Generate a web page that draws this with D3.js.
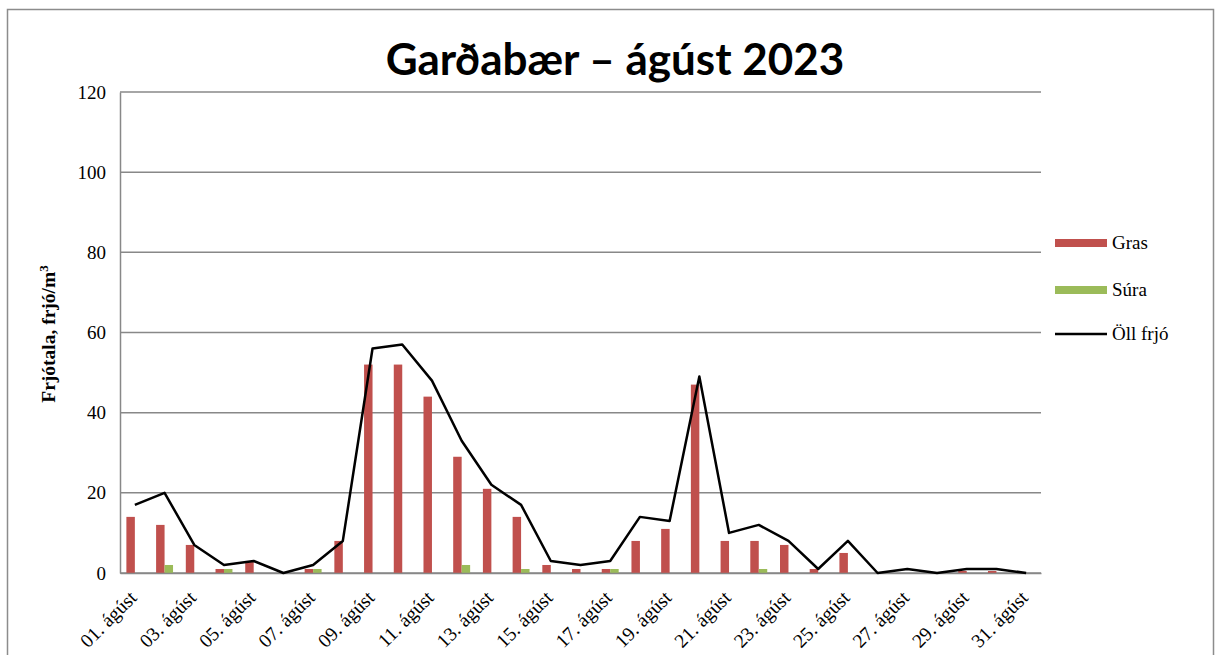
<!DOCTYPE html>
<html>
<head>
<meta charset="utf-8">
<script src="https://cdn.jsdelivr.net/npm/d3@7"></script>
<style>
  body { margin: 0; background: #fff; }
  svg { display: block; }
  .serif { font-family: "Liberation Serif", "Times New Roman", "DejaVu Serif", serif; }
</style>
</head>
<body>
<div id="chart"></div>
<script>
const days = d3.range(1, 32).map(d => (d < 10 ? "0" + d : "" + d) + ". ágúst");
const gras = [14, 12, 7, 1, 3, 0, 1, 8, 52, 52, 44, 29, 21, 14, 2, 1, 1, 8, 11, 47, 8, 8, 7, 1, 5, 0, 0, 0, 0.5, 0.5, 0];
const sura = [0, 2, 0, 1, 0, 0, 1, 0, 0, 0, 0, 2, 0, 1, 0, 0, 1, 0, 0, 0, 0, 1, 0, 0, 0, 0, 0, 0, 0, 0, 0];
const allPollen = [17, 20, 7, 2, 3, 0, 2, 8, 56, 57, 48, 33, 22, 17, 3, 2, 3, 14, 13, 49, 10, 12, 8, 1, 8, 0, 1, 0, 1, 1, 0];
const yTicks = [0, 20, 40, 60, 80, 100, 120];
const seriesNames = ["Gras", "Súra", "Öll frjó"];
const colors = { Gras: "#C0504D", "Súra": "#9BBB59", "Öll frjó": "#000" };

const svg = d3.select("#chart").append("svg")
  .attr("width", 1220)
  .attr("height", 655);

const margin = { top: 92, left: 120, right: 179, bottom: 82 };
const width = 1220 - margin.left - margin.right;
const height = 655 - margin.top - margin.bottom;

// outer chart border
svg.append("path")
  .attr("d", "M7.5,655 V9.5 H1213.5 V655")
  .attr("fill", "none")
  .attr("stroke", "#8c8c8c")
  .attr("stroke-width", 1.5);

svg.append("text")
  .attr("x", 615)
  .attr("y", 75)
  .attr("text-anchor", "middle")
  .attr("font-family", "Lato, 'Open Sans', sans-serif")
  .attr("font-weight", "bold")
  .attr("font-size", 44)
  .text("Garðabær – ágúst 2023");

const chart = svg.append("g").attr("transform", `translate(${margin.left},${margin.top})`);

const x = d3.scaleBand().domain(days).range([0, width]).paddingInner(0.43).paddingOuter(0.215);
const xSub = d3.scaleBand().domain(["Gras", "Súra"]).range([0, x.bandwidth()]);
const y = d3.scaleLinear().domain([0, 120]).range([height, 0]);

// gridlines
chart.append("g")
  .selectAll("line")
  .data(yTicks)
  .join("line")
  .attr("x1", 0).attr("x2", width)
  .attr("y1", d => y(d)).attr("y2", d => y(d))
  .attr("stroke", "#888")
  .attr("stroke-width", 1.5);

// y axis
const yAxis = chart.append("g")
  .call(d3.axisLeft(y).tickValues(yTicks).tickSize(0).tickPadding(14));
yAxis.attr("font-family", null);
yAxis.select(".domain").attr("stroke", "#888").attr("stroke-width", 1.5);
yAxis.selectAll("text")
  .attr("class", "serif")
  .attr("font-size", 19)
  .attr("fill", "#000");

// bars
const groups = chart.append("g")
  .selectAll("g")
  .data(days)
  .join("g")
  .attr("transform", d => `translate(${x(d)},0)`);

groups.selectAll("rect")
  .data((d, i) => [{ key: "Gras", v: gras[i] }, { key: "Súra", v: sura[i] }])
  .join("rect")
  .attr("x", d => xSub(d.key))
  .attr("width", xSub.bandwidth())
  .attr("y", d => y(d.v))
  .attr("height", d => height - y(d.v))
  .attr("fill", d => colors[d.key]);

// x axis
const xAxis = chart.append("g")
  .attr("transform", `translate(0,${height})`)
  .call(d3.axisBottom(x).tickSize(0).tickFormat((d, i) => i % 2 === 0 ? d : ""));
xAxis.attr("font-family", null);
xAxis.select(".domain").attr("stroke", "#888").attr("stroke-width", 1.5);
xAxis.selectAll("text")
  .attr("class", "serif")
  .attr("font-size", 19.5)
  .attr("fill", "#000")
  .attr("text-anchor", "end")
  .attr("dy", null)
  .attr("y", 0)
  .attr("transform", "translate(3,26) rotate(-45)");

// total line
const line = d3.line()
  .x((d, i) => x(days[i]) + x.bandwidth() / 2)
  .y(d => y(d));
chart.append("path")
  .datum(allPollen)
  .attr("d", line)
  .attr("fill", "none")
  .attr("stroke", "#000")
  .attr("stroke-width", 2.5)
  .attr("stroke-linejoin", "round");

// y axis title
svg.append("text")
  .attr("class", "serif")
  .attr("transform", "translate(55,334) rotate(-90)")
  .attr("text-anchor", "middle")
  .attr("font-weight", "bold")
  .attr("font-size", 19.5)
  .text("Frjótala, frjó/m")
  .append("tspan")
  .attr("baseline-shift", "super")
  .attr("font-size", 13)
  .text("3");

// legend
const legend = svg.append("g").attr("transform", "translate(1055,0)");
const legendY = [243, 290, 334];
seriesNames.forEach((name, i) => {
  const g = legend.append("g").attr("transform", `translate(0,${legendY[i]})`);
  if (name === "Öll frjó") {
    g.append("line").attr("x1", 0).attr("x2", 52).attr("y1", 0).attr("y2", 0)
      .attr("stroke", "#000").attr("stroke-width", 2.5);
  } else {
    g.append("rect").attr("x", 0).attr("y", -4).attr("width", 52).attr("height", 8)
      .attr("fill", colors[name]);
  }
  g.append("text")
    .attr("class", "serif")
    .attr("x", 57)
    .attr("y", 6)
    .attr("font-size", 19)
    .text(name);
});
</script>
</body>
</html>
